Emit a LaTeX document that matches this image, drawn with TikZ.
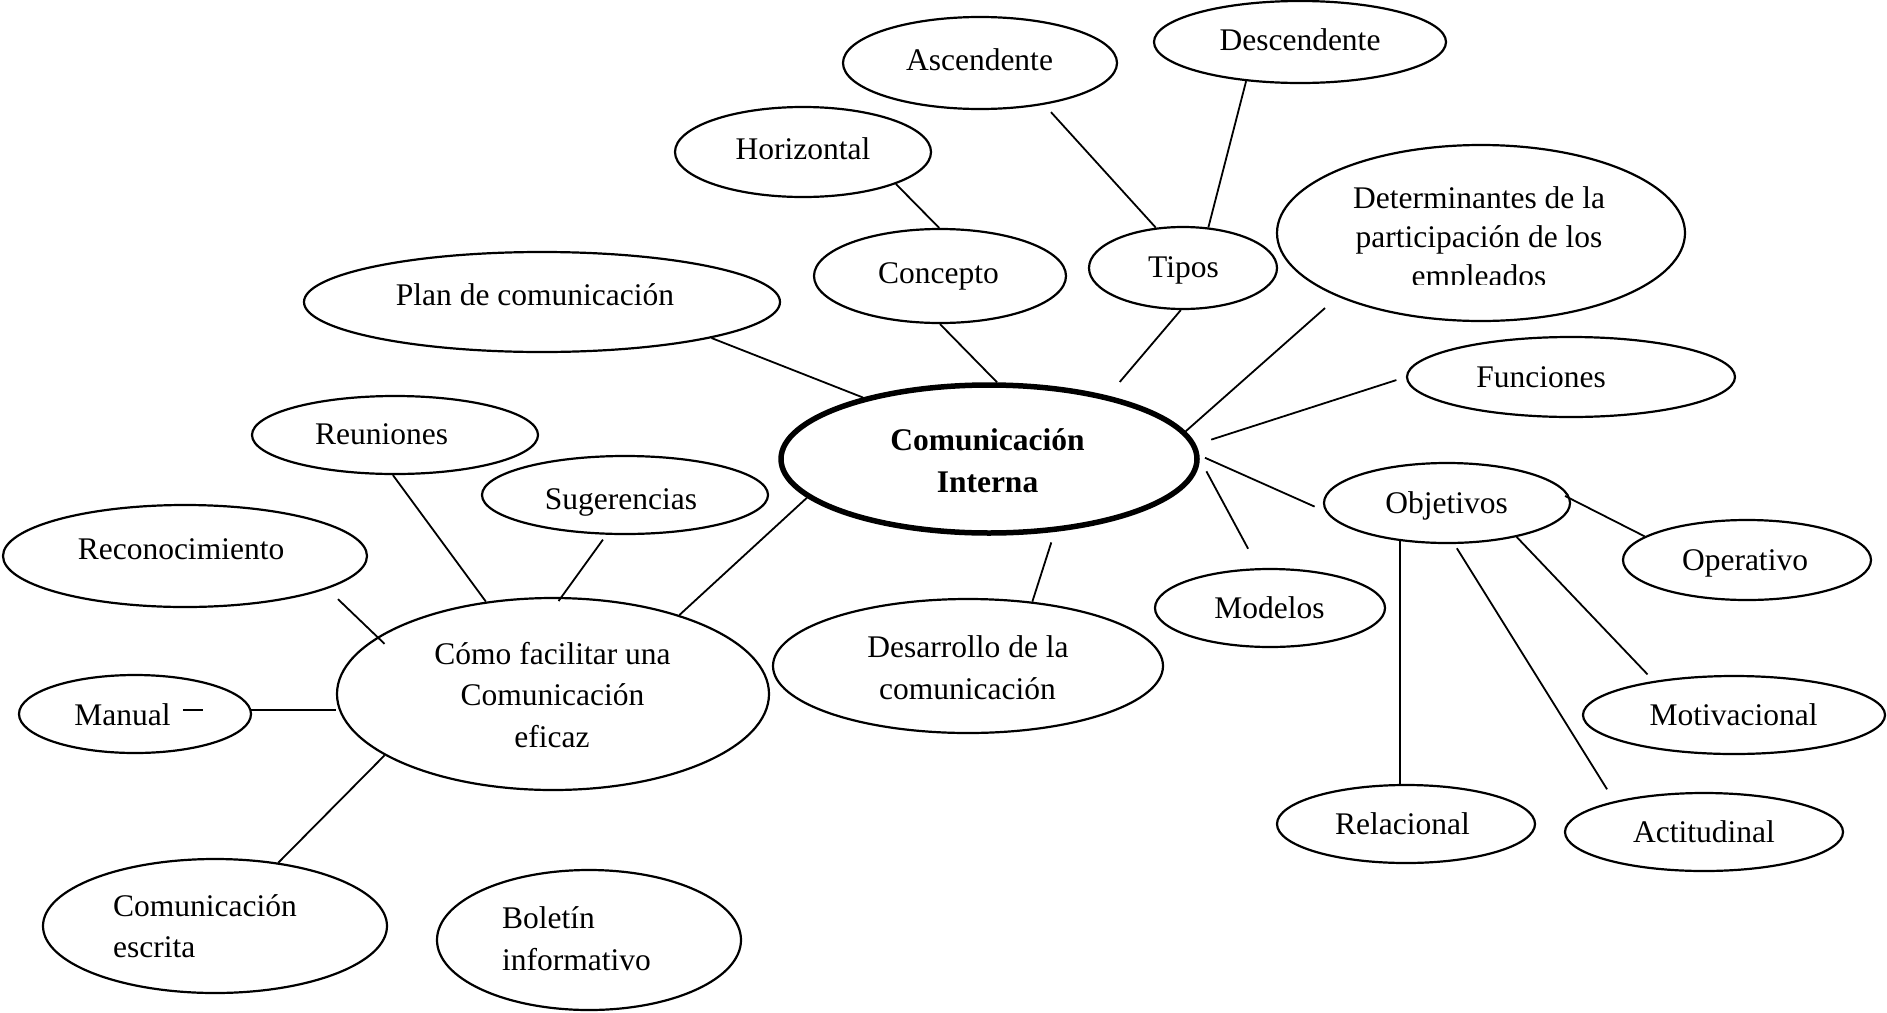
\documentclass[tikz,border=0pt]{standalone}
\usepackage{fontspec}
\setmainfont{Liberation Serif}
\usetikzlibrary{shapes.geometric}
\begin{document}
\begin{tikzpicture}[x=1pt,y=-1pt,
  oval/.style 2 args={draw, ellipse, line width=2.2pt, inner sep=0pt,
                      minimum width=#1, minimum height=#2},
  hub/.style 2 args={oval={#1}{#2}, line width=5.5pt},
  txt/.style={inner sep=0pt, anchor=base, font=\fontsize{31.5}{38}\selectfont},
  txtl/.style={txt, anchor=base west},
  link/.style={line width=1.8pt}]
\path[use as bounding box] (0,0) rectangle (1887,1012);

% ---- ellipses ----
\node[hub={416pt}{148pt}] (ci)    at (989,459)  {};
\node[oval={274pt}{92pt}]  (asc)   at (980,63)   {};
\node[oval={292pt}{82pt}]  (desc)  at (1300,42)  {};
\node[oval={256pt}{90pt}]  (hor)   at (803,152)  {};
\node[oval={252pt}{94pt}]  (conc)  at (940,276)  {};
\node[oval={188pt}{82pt}]  (tipos) at (1183,268) {};
\node[oval={408pt}{176pt}] (det)   at (1481,233) {};
\node[oval={476pt}{100pt}] (plan)  at (542,302)  {};
\node[oval={328pt}{80pt}]  (fun)   at (1571,377) {};
\node[oval={286pt}{78pt}]  (reu)   at (395,435)  {};
\node[oval={286pt}{78pt}]  (sug)   at (625,495)  {};
\node[oval={364pt}{102pt}] (rec)   at (185,556)  {};
\node[oval={246pt}{80pt}]  (obj)   at (1447,503) {};
\node[oval={248pt}{80pt}]  (ope)   at (1747,560) {};
\node[oval={230pt}{78pt}]  (mod)   at (1270,608) {};
\node[oval={432pt}{192pt}] (como)  at (553,694)  {};
\node[oval={390pt}{134pt}] (des)   at (968,666)  {};
\node[oval={232pt}{78pt}]  (man)   at (135,714)  {};
\node[oval={302pt}{78pt}]  (mot)   at (1734,715) {};
\node[oval={258pt}{78pt}]  (rel)   at (1406,824) {};
\node[oval={278pt}{78pt}]  (act)   at (1704,832) {};
\node[oval={344pt}{134pt}] (esc)   at (215,926)  {};
\node[oval={304pt}{140pt}] (bol)   at (589,940)  {};

% ---- labels ----
\node[txt, font=\fontsize{31.5}{38}\selectfont\bfseries] (ci-1) at (987.5,450) {Comunicación};
\node[txt, font=\fontsize{31.5}{38}\selectfont\bfseries] (ci-2) at (987.5,492) {Interna};
\node[txt] (asc-t)   at (979.5,70)  {Ascendente};
\node[txt] (desc-t)  at (1300,50)   {Descendente};
\node[txt] (hor-t)   at (803,159)   {Horizontal};
\node[txt] (conc-t)  at (938.5,283) {Concepto};
\node[txt] (tipos-t) at (1183.5,277){Tipos};
\node[txt] (det-1)   at (1479,208)  {Determinantes de la};
\node[txt] (det-2)   at (1479,247)  {participación de los};
\begin{scope}
  \clip (1370,255) rectangle (1590,284);
  \node[txt] (det-3) at (1479,286) {empleados};
\end{scope}
\node[txt] (plan-t)  at (535,305)   {Plan de comunicación};
\node[txt] (fun-t)   at (1541,387)  {Funciones};
\node[txt] (reu-t)   at (381.5,444) {Reuniones};
\node[txt] (sug-t)   at (621,509)   {Sugerencias};
\node[txt] (rec-t)   at (181,559)   {Reconocimiento};
\node[txt] (obj-t)   at (1446.5,513){Objetivos};
\node[txt] (ope-t)   at (1745,570)  {Operativo};
\node[txt] (mod-t)   at (1269.5,618){Modelos};
\node[txt] (como-1)  at (552.5,664) {Cómo facilitar una};
\node[txt] (como-2)  at (552.5,705) {Comunicación};
\node[txt] (como-3)  at (552,747)   {eficaz};
\node[txt] (des-1)   at (968,657)   {Desarrollo de la};
\node[txt] (des-2)   at (967.5,699) {comunicación};
\node[txt] (man-t)   at (122.5,725) {Manual};
\node[txt] (mot-t)   at (1733.5,725){Motivacional};
\node[txt] (rel-t)   at (1402.5,834){Relacional};
\node[txt] (act-t)   at (1704,842)  {Actitudinal};
\node[txtl] (esc-1)  at (113,916)   {Comunicación};
\node[txtl] (esc-2)  at (113,957)   {escrita};
\node[txtl] (bol-1)  at (502,928)   {Boletín};
\node[txtl] (bol-2)  at (502,970)   {informativo};

% short stroke after "Manual"
\draw[link] ([xshift=12pt,yshift=15pt]man-t.base east) -- ++(20pt,0);

% ---- connectors ----
\draw[link] (hor.-19) -- (conc.91);
\draw[link, shorten <=10pt] (asc.-33) -- (tipos.124);
\draw[link] (desc.-144) -- (tipos.58);
\draw[link] (conc.-90) -- (ci.84);
\draw[link] (plan.-12) -- (ci.154);
\draw[link, shorten >=18pt] (tipos.-93) -- (ci.28);
\draw[link, shorten <=17pt] (det.204) -- (ci.8);
\draw[link, shorten <=10pt, shorten >=16pt] (fun.180) -- (ci.4);
\draw[link, shorten <=6pt, shorten >=12pt] (ci.1) -- (obj.184);
\draw[link, shorten <=14pt, shorten >=22pt] (ci.0) -- (mod.106);
\draw[link, shorten <=11pt] (ci.-48) -- (des.45);
\draw[link] (ci.192) -- (como.32);
\draw[link] (reu.-93) -- (como.126);
\draw[link, shorten <=6pt, shorten >=-5pt] (sug.245) -- (como.85);
\draw[link, shorten <=15pt, shorten >=-10pt] (rec.-13) -- (como.162);
\draw[link] (man.2) -- (man.2 -| como.west);
\draw[link] (como.200) -- (esc.45);
\draw[link, shorten <=-6pt] (obj.2) -- (ope.167);
\draw[link, shorten >=9pt] (obj.-26) -- (mot.157);
\draw[link, shorten <=5pt, shorten >=14pt] (obj.-80) -- (act.161);
\draw[link] (obj.-141) -- (obj.-141 |- rel.north);
\end{tikzpicture}
\end{document}
